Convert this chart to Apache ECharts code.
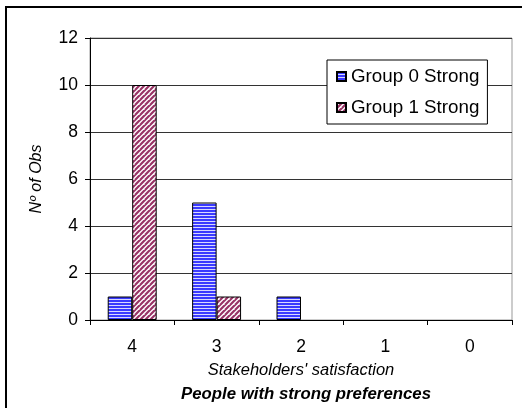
<!DOCTYPE html>
<html>
<head>
<meta charset="utf-8">
<script src="https://cdn.jsdelivr.net/npm/echarts@6/dist/echarts.min.js"></script>
<style>
  html, body { margin: 0; padding: 0; background: #fff; }
  #chart { width: 522px; height: 408px; }
</style>
</head>
<body>
<div id="chart"></div>
<script>
// Satisfaction scores (categories) and counts per group
const categories = ['4', '3', '2', '1', '0'];
const group0Strong = [1, 5, 1, 0, 0];
const group1Strong = [10, 1, 0, 0, 0];
const seriesNames = ['Group 0 Strong', 'Group 1 Strong'];
const yTicks = [0, 2, 4, 6, 8, 10, 12];

// Hatch fills: horizontal blue stripes and diagonal maroon stripes
function horizontalStripes() {
  const c = document.createElement('canvas');
  c.width = 4; c.height = 3;
  const g = c.getContext('2d');
  g.fillStyle = '#3a3aff';
  g.fillRect(0, 0, 4, 3);
  g.fillStyle = '#d8d8ff';
  g.fillRect(0, 2, 4, 1);
  return c;
}
function diagonalStripes() {
  const n = 5;
  const c = document.createElement('canvas');
  c.width = n; c.height = n;
  const g = c.getContext('2d');
  g.fillStyle = '#ffffff';
  g.fillRect(0, 0, n, n);
  g.strokeStyle = '#993366';
  g.lineWidth = 2.2;
  g.beginPath();
  for (let k = -n; k <= 2 * n; k += n) {
    g.moveTo(k - n, n);
    g.lineTo(k + n, -n);
  }
  g.stroke();
  return c;
}

// Empty counts get no outline, so nothing shows at zero
function barData(values) {
  return values.map(v => v === 0 ? { value: v, itemStyle: { borderWidth: 0 } } : v);
}

const chart = echarts.init(document.getElementById('chart'), null, { renderer: 'canvas' });
const font = 'Liberation Sans, Arial, sans-serif';

chart.setOption({
  animation: false,
  backgroundColor: '#fff',
  textStyle: { fontFamily: font },
  title: {
    text: 'People with strong preferences',
    left: 301,
    textAlign: 'center',
    top: 381,
    textStyle: { fontFamily: font, fontSize: 16.8, fontWeight: 'bold', fontStyle: 'italic', color: '#000' }
  },
  legend: {
    orient: 'vertical',
    left: 327,
    top: 60,
    padding: [7, 8, 7, 9],
    itemGap: 12,
    itemWidth: 9,
    itemHeight: 9,
    icon: 'rect',
    borderColor: '#000',
    borderWidth: 1,
    backgroundColor: '#fff',
    textStyle: { fontFamily: font, fontSize: 18.8, color: '#000' },
    data: seriesNames
  },
  grid: {
    left: 90, top: 38, right: 10, bottom: 88,
    show: true, borderColor: '#999', borderWidth: 1
  },
  xAxis: {
    type: 'category',
    data: categories,
    name: "Stakeholders' satisfaction",
    nameLocation: 'middle',
    nameGap: 42,
    nameTextStyle: { fontFamily: font, fontSize: 16.5, fontStyle: 'italic', color: '#000' },
    axisLine: { lineStyle: { color: '#000', width: 1 } },
    axisTick: { show: true, length: 5, lineStyle: { color: '#000' } },
    axisLabel: { fontFamily: font, fontSize: 17.5, color: '#000', margin: 18 }
  },
  yAxis: {
    type: 'value',
    min: yTicks[0],
    max: yTicks[yTicks.length - 1],
    interval: 2,
    name: 'Nº of Obs',
    nameLocation: 'middle',
    nameGap: 45,
    nameTextStyle: { fontFamily: font, fontSize: 16, fontStyle: 'italic', color: '#000' },
    axisLine: { show: true, lineStyle: { color: '#000', width: 1 } },
    axisTick: { show: true, length: 5, lineStyle: { color: '#000' } },
    axisLabel: { fontFamily: font, fontSize: 17.5, color: '#000', margin: 12 },
    splitLine: { show: true, lineStyle: { color: '#333', width: 1 } }
  },
  series: [
    {
      name: seriesNames[0],
      type: 'bar',
      data: barData(group0Strong),
      barGap: '0%',
      barCategoryGap: '42%',
      itemStyle: {
        color: { image: horizontalStripes(), repeat: 'repeat' },
        borderColor: '#000',
        borderWidth: 1
      }
    },
    {
      name: seriesNames[1],
      type: 'bar',
      data: barData(group1Strong),
      barGap: '0%',
      barCategoryGap: '42%',
      itemStyle: {
        color: { image: diagonalStripes(), repeat: 'repeat' },
        borderColor: '#000',
        borderWidth: 1
      }
    }
  ],
  graphic: [
    {
      type: 'polyline',
      silent: true,
      shape: { points: [[6, 408], [6, 7], [522, 7]] },
      style: { stroke: '#000', lineWidth: 2, fill: null }
    }
  ]
});
</script>
</body>
</html>
